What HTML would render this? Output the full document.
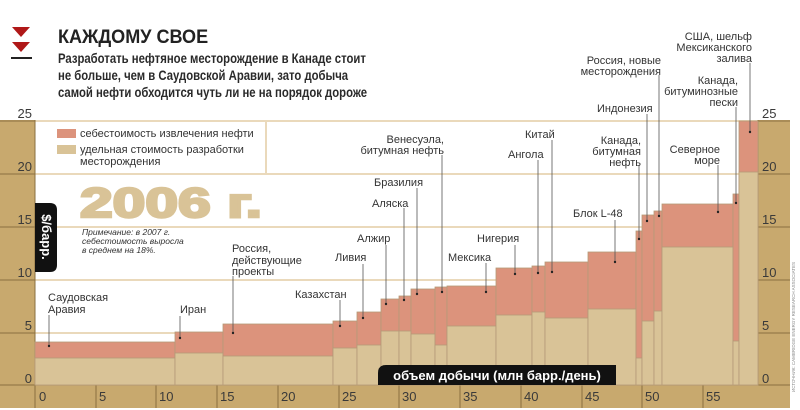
<!DOCTYPE html>
<html><head><meta charset="utf-8"><style>
html,body{margin:0;padding:0;background:#fff;}
body{width:800px;height:410px;overflow:hidden;position:relative;font-family:"Liberation Sans","DejaVu Sans",sans-serif;}
svg{position:absolute;left:0;top:0;}
</style></head><body>
<svg width="800" height="410" viewBox="0 0 800 410" font-family="Liberation Sans, DejaVu Sans, sans-serif">
<!-- header -->
<polygon points="12,27 30,27 21,37" fill="#b01818"/>
<polygon points="12,42 30,42 21,52" fill="#b01818"/>
<rect x="11" y="57" width="21" height="2" fill="#222"/>
<text x="58" y="43" font-size="19" font-weight="bold" fill="#222" transform="translate(58,0) scale(0.95,1) translate(-58,0)">КАЖДОМУ СВОЕ</text>
<g font-size="14" font-weight="bold" fill="#2a2a2a" transform="translate(58,0) scale(0.81,1) translate(-58,0)">
<text x="58" y="63">Разработать нефтяное месторождение в Канаде стоит</text>
<text x="58" y="80">не больше, чем в Саудовской Аравии, зато добыча</text>
<text x="58" y="97">самой нефти обходится чуть ли не на порядок дороже</text>
</g>
<!-- side columns -->
<rect x="0" y="120" width="35" height="265" fill="#c8a96e"/>
<rect x="758" y="120" width="32" height="265" fill="#c8a96e"/>
<rect x="0" y="385" width="790" height="23" fill="#c8a96e"/>
<!-- gridlines -->
<g stroke="#ead9bb" stroke-width="2">
<line x1="35" y1="121" x2="758" y2="121"/><line x1="35" y1="174" x2="758" y2="174"/>
<line x1="35" y1="227" x2="758" y2="227"/><line x1="35" y1="280" x2="758" y2="280"/>
<line x1="35" y1="333" x2="758" y2="333"/>
</g>
<g stroke="#8a7040" stroke-width="1">
<line x1="0" y1="121" x2="35" y2="121"/><line x1="0" y1="174" x2="35" y2="174"/><line x1="0" y1="227" x2="35" y2="227"/><line x1="0" y1="280" x2="35" y2="280"/><line x1="0" y1="333" x2="35" y2="333"/>
<line x1="758" y1="121" x2="790" y2="121"/><line x1="758" y1="174" x2="790" y2="174"/><line x1="758" y1="227" x2="790" y2="227"/><line x1="758" y1="280" x2="790" y2="280"/><line x1="758" y1="333" x2="790" y2="333"/>
<line x1="35" y1="120" x2="35" y2="408"/><line x1="758" y1="120" x2="758" y2="385"/>
<line x1="0" y1="385" x2="790" y2="385"/>
<line x1="96" y1="385" x2="96" y2="408"/><line x1="156" y1="385" x2="156" y2="408"/><line x1="217" y1="385" x2="217" y2="408"/><line x1="278" y1="385" x2="278" y2="408"/><line x1="339" y1="385" x2="339" y2="408"/><line x1="399" y1="385" x2="399" y2="408"/><line x1="460" y1="385" x2="460" y2="408"/><line x1="521" y1="385" x2="521" y2="408"/><line x1="582" y1="385" x2="582" y2="408"/><line x1="642" y1="385" x2="642" y2="408"/><line x1="703" y1="385" x2="703" y2="408"/>
</g>
<line x1="266" y1="121" x2="266" y2="174" stroke="#ead9bb" stroke-width="2"/>
<!-- tick labels -->
<g font-size="13" fill="#3a3a3a" text-anchor="end">
<text x="32" y="118">25</text><text x="32" y="171">20</text><text x="32" y="224">15</text><text x="32" y="277">10</text><text x="32" y="330">5</text><text x="32" y="383">0</text>
</g>
<g font-size="13" fill="#3a3a3a">
<text x="762" y="118">25</text><text x="762" y="171">20</text><text x="762" y="224">15</text><text x="762" y="277">10</text><text x="762" y="330">5</text><text x="762" y="383">0</text>
<text x="39" y="401">0</text><text x="99" y="401">5</text><text x="159" y="401">10</text><text x="220" y="401">15</text><text x="281" y="401">20</text><text x="342" y="401">25</text><text x="402" y="401">30</text><text x="463" y="401">35</text><text x="524" y="401">40</text><text x="585" y="401">45</text><text x="645" y="401">50</text><text x="706" y="401">55</text>
</g>
<!-- bars: x1,x2,top,beige -->
<g stroke="#b59a78" stroke-width="0.8">
<rect x="35" y="342" width="140" height="43" fill="#dc937c"/><rect x="35" y="358" width="140" height="27" fill="#d9c397"/>
<rect x="175" y="332" width="48" height="53" fill="#dc937c"/><rect x="175" y="353" width="48" height="32" fill="#d9c397"/>
<rect x="223" y="324" width="110" height="61" fill="#dc937c"/><rect x="223" y="356" width="110" height="29" fill="#d9c397"/>
<rect x="333" y="321" width="24" height="64" fill="#dc937c"/><rect x="333" y="348" width="24" height="37" fill="#d9c397"/>
<rect x="357" y="312" width="24" height="73" fill="#dc937c"/><rect x="357" y="345" width="24" height="40" fill="#d9c397"/>
<rect x="381" y="299" width="18" height="86" fill="#dc937c"/><rect x="381" y="331" width="18" height="54" fill="#d9c397"/>
<rect x="399" y="296" width="12" height="89" fill="#dc937c"/><rect x="399" y="331" width="12" height="54" fill="#d9c397"/>
<rect x="411" y="289" width="24" height="96" fill="#dc937c"/><rect x="411" y="334" width="24" height="51" fill="#d9c397"/>
<rect x="435" y="287" width="12" height="98" fill="#dc937c"/><rect x="435" y="345" width="12" height="40" fill="#d9c397"/>
<rect x="447" y="286" width="49" height="99" fill="#dc937c"/><rect x="447" y="326" width="49" height="59" fill="#d9c397"/>
<rect x="496" y="268" width="36" height="117" fill="#dc937c"/><rect x="496" y="315" width="36" height="70" fill="#d9c397"/>
<rect x="532" y="266" width="13" height="119" fill="#dc937c"/><rect x="532" y="312" width="13" height="73" fill="#d9c397"/>
<rect x="545" y="262" width="43" height="123" fill="#dc937c"/><rect x="545" y="318" width="43" height="67" fill="#d9c397"/>
<rect x="588" y="252" width="48" height="133" fill="#dc937c"/><rect x="588" y="309" width="48" height="76" fill="#d9c397"/>
<rect x="636" y="231" width="6" height="154" fill="#dc937c"/><rect x="636" y="358" width="6" height="27" fill="#d9c397"/>
<rect x="642" y="215" width="12" height="170" fill="#dc937c"/><rect x="642" y="321" width="12" height="64" fill="#d9c397"/>
<rect x="654" y="211" width="8" height="174" fill="#dc937c"/><rect x="654" y="311" width="8" height="74" fill="#d9c397"/>
<rect x="662" y="204" width="71" height="181" fill="#dc937c"/><rect x="662" y="247" width="71" height="138" fill="#d9c397"/>
<rect x="733" y="194" width="6" height="191" fill="#dc937c"/><rect x="733" y="341" width="6" height="44" fill="#d9c397"/>
<rect x="739" y="121" width="19" height="264" fill="#dc937c"/><rect x="739" y="172" width="19" height="213" fill="#d9c397"/>
</g>
<!-- legend -->
<rect x="57" y="129" width="19" height="9" fill="#dc937c"/>
<rect x="57" y="145" width="19" height="9" fill="#d9c397"/>
<g font-size="11" fill="#333"><text x="80" y="137">себестоимость извлечения нефти</text><text x="80" y="153">удельная стоимость разработки</text><text x="80" y="165">месторождения</text></g>
<!-- 2006 -->
<text x="80" y="217" font-size="42" font-weight="bold" fill="#d9c397" stroke="#d9c397" stroke-width="2.5" transform="translate(80,0) scale(1.4,1) translate(-80,0)">2006 г.</text>
<g font-size="8.5" font-style="italic" fill="#333"><text x="82" y="235">Примечание: в 2007 г.</text><text x="82" y="244">себестоимость выросла</text><text x="82" y="253">в среднем на 18%.</text></g>
<!-- $/barr box -->
<path d="M35,203 H50 Q57,203 57,210 V265 Q57,272 50,272 H35 Z" fill="#111"/>
<text transform="translate(42,237) rotate(90)" font-size="13" font-weight="bold" fill="#fff" text-anchor="middle">$/барр.</text>
<!-- x axis title pill -->
<path d="M386,365 H616 V385 H378 V373 Q378,365 386,365 Z" fill="#111"/>
<text x="497" y="380" font-size="13" fill="#fff" text-anchor="middle" font-weight="bold">объем добычи (млн барр./день)</text>
<!-- leaders -->
<g stroke="#555" stroke-width="0.8">
<line x1="49" y1="315" x2="49" y2="346"/><line x1="180" y1="316" x2="180" y2="338"/><line x1="233" y1="276" x2="233" y2="333"/>
<line x1="340" y1="300" x2="340" y2="326"/><line x1="363" y1="264" x2="363" y2="318"/><line x1="386" y1="245" x2="386" y2="304"/>
<line x1="404" y1="208" x2="404" y2="300"/><line x1="417" y1="188" x2="417" y2="294"/><line x1="442" y1="155" x2="442" y2="292"/>
<line x1="486" y1="263" x2="486" y2="292"/><line x1="515" y1="245" x2="515" y2="274"/><line x1="538" y1="160" x2="538" y2="273"/>
<line x1="552" y1="140" x2="552" y2="272"/><line x1="615" y1="220" x2="615" y2="262"/><line x1="639" y1="165" x2="639" y2="239"/>
<line x1="647" y1="114" x2="647" y2="221"/><line x1="659" y1="75" x2="659" y2="216"/><line x1="718" y1="165" x2="718" y2="212"/>
<line x1="736" y1="107" x2="736" y2="203"/><line x1="750" y1="63" x2="750" y2="132"/>
</g>
<g fill="#222">
<circle cx="49" cy="346" r="1.2"/><circle cx="180" cy="338" r="1.2"/><circle cx="233" cy="333" r="1.2"/><circle cx="340" cy="326" r="1.2"/><circle cx="363" cy="318" r="1.2"/><circle cx="386" cy="304" r="1.2"/><circle cx="404" cy="300" r="1.2"/><circle cx="417" cy="294" r="1.2"/><circle cx="442" cy="292" r="1.2"/><circle cx="486" cy="292" r="1.2"/><circle cx="515" cy="274" r="1.2"/><circle cx="538" cy="273" r="1.2"/><circle cx="552" cy="272" r="1.2"/><circle cx="615" cy="262" r="1.2"/><circle cx="639" cy="239" r="1.2"/><circle cx="647" cy="221" r="1.2"/><circle cx="659" cy="216" r="1.2"/><circle cx="718" cy="212" r="1.2"/><circle cx="736" cy="203" r="1.2"/><circle cx="750" cy="132" r="1.2"/>
</g>
<!-- labels -->
<g font-size="11" fill="#333">
<text x="48" y="301">Саудовская</text><text x="48" y="313">Аравия</text>
<text x="180" y="313">Иран</text>
<text x="232" y="252">Россия,</text><text x="232" y="264">действующие</text><text x="232" y="275">проекты</text>
<text x="295" y="298">Казахстан</text>
<text x="335" y="261">Ливия</text>
<text x="357" y="242">Алжир</text>
<text x="372" y="207">Аляска</text>
<text x="374" y="186">Бразилия</text>
<text x="448" y="261">Мексика</text>
<text x="477" y="242">Нигерия</text>
<text x="508" y="158">Ангола</text>
<text x="525" y="138">Китай</text>
<text x="573" y="217">Блок L-48</text>
<text x="597" y="112">Индонезия</text>
</g>
<g font-size="11" fill="#333" text-anchor="end">
<text x="444" y="143">Венесуэла,</text><text x="444" y="154">битумная нефть</text>
<text x="641" y="144">Канада,</text><text x="641" y="155">битумная</text><text x="641" y="166">нефть</text>
<text x="661" y="64">Россия, новые</text><text x="661" y="75">месторождения</text>
<text x="720" y="153">Северное</text><text x="720" y="164">море</text>
<text x="738" y="84">Канада,</text><text x="738" y="95">битуминозные</text><text x="738" y="106">пески</text>
<text x="752" y="40">США, шельф</text><text x="752" y="51">Мексиканского</text><text x="752" y="62">залива</text>
</g>
<text transform="translate(795,392) rotate(-90)" font-size="4.5" fill="#888">ИСТОЧНИК: CAMBRIDGE ENERGY RESEARCH ASSOCIATES</text>
</svg>
</body></html>
